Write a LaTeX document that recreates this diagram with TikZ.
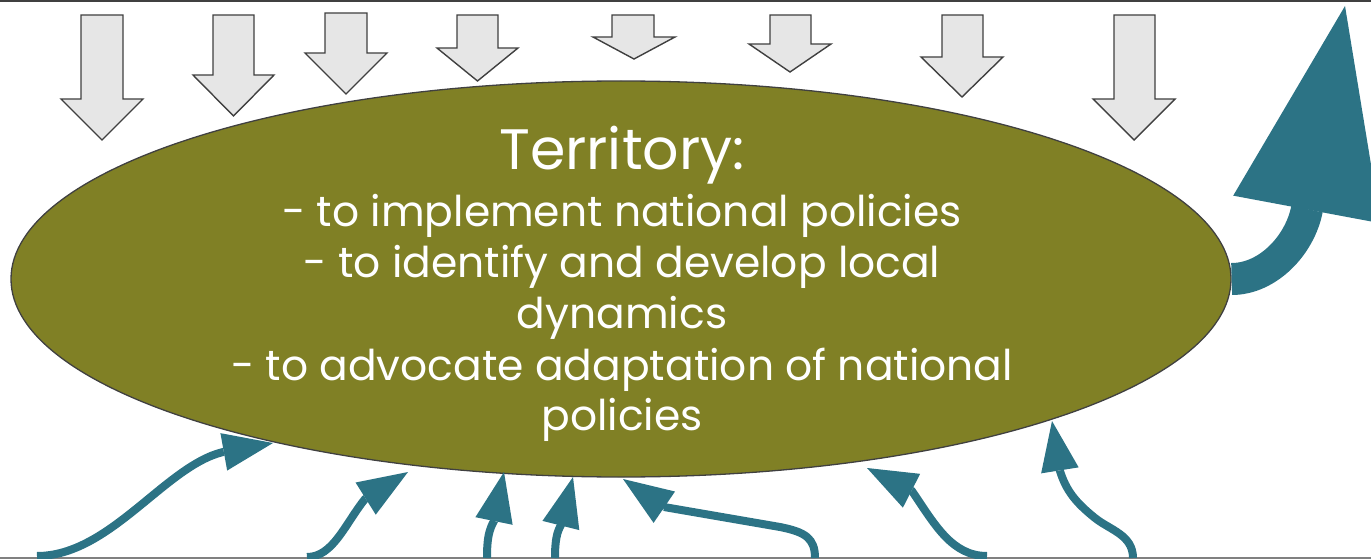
\documentclass[tikz,border=0pt]{standalone}
\usepackage{fontspec}
\setmainfont{Poppins}
\usetikzlibrary{shapes.geometric,arrows.meta}
\definecolor{olivec}{HTML}{808025}
\definecolor{tealc}{HTML}{2C7385}
\definecolor{edgec}{HTML}{404040}
\definecolor{blkfill}{HTML}{E6E6E6}
\newcommand\blkarrow[7]{\draw[blk] (#1,#3) -- (#2,#3) -- (#2,#4) -- (#6,#4) -- ({(#5+#6)/2},#7) -- (#5,#4) -- (#1,#4) -- cycle;}
\tikzset{
  blk/.style={draw=edgec, fill=blkfill, line width=1.4pt, line join=miter},
  flow/.style={draw=tealc, line width=8pt, -{Triangle[length=50pt,width=38pt,line width=0pt]}},
  bighead/.style={draw=tealc, line width=1pt, -{Triangle[length=207pt,width=150pt,line width=0pt]}},
  lbl/.style={text=white, anchor=base, inner sep=0pt, font=\fontsize{42.4}{50}\selectfont},
  ttl/.style={text=white, anchor=base, inner sep=0pt, font=\fontsize{57}{62}\selectfont}
}
\begin{document}
\begin{tikzpicture}[x=1pt,y=-1pt]
\useasboundingbox (0,0) rectangle (1371,559);
\clip (0,0) rectangle (1371,559);
% frame lines
\draw[edgec, line width=2.5pt] (0,1) -- (1371,1);
\draw[gray, line width=2pt] (0,558) -- (1371,558);
% top block arrows
\blkarrow{81}{123}{15}{99}{61}{143}{140}
\blkarrow{213}{254}{15}{75}{193}{274}{116}
\blkarrow{325}{367}{13}{53}{305}{387}{94}
\blkarrow{457}{498}{15}{48}{437}{518}{81}
\blkarrow{612}{654}{15}{37}{593}{675}{59}
\blkarrow{770}{811}{15}{44}{749}{831}{72}
\blkarrow{942}{983}{15}{57}{921}{1003}{97}
\blkarrow{1114}{1155}{15}{99}{1093}{1175}{140}
% ellipse
\node[ellipse, draw=edgec, fill=olivec, line width=1.3pt, inner sep=0pt,
      minimum width=1220pt, minimum height=396pt] (terr) at (621,279) {};
% text
\node[ttl] (t0) at (622,170) {Territory:};
\node[lbl] (t1) at (622,226) {- to implement national policies};
\node[lbl] (t2) at (622,277) {- to identify and develop local};
\node[lbl] (t3) at (622,328) {dynamics};
\node[lbl] (t4) at (622,380) {- to advocate adaptation of national};
\node[lbl] (t5) at (622,430) {policies};
% big arrow
\coordinate (bb) at (1307,209);
\coordinate (bt) at (1345,6);
\draw[tealc, line width=32pt] (terr.east) .. controls (1268,279) and (1300,245) .. (bb);
\draw[bighead] (bb) -- (bt);
% bottom arrows
\coordinate (s1) at (37,556);  \coordinate (b1) at (223,452); \coordinate (e1) at (273,443);
\coordinate (s2) at (307,557); \coordinate (b2) at (365,499); \coordinate (e2) at (408,472);
\coordinate (s3) at (487,558); \coordinate (b3) at (494,521); \coordinate (e3) at (504,472);
\coordinate (s4) at (555,558); \coordinate (b4) at (561,525); \coordinate (e4) at (573,477);
\coordinate (s5) at (815,558); \coordinate (b5) at (664,507); \coordinate (e5) at (623,479);
\coordinate (s6) at (987,556); \coordinate (b6) at (912,491); \coordinate (e6) at (867,468);
\coordinate (s7) at (1133,558); \coordinate (b7) at (1060,471); \coordinate (e7) at (1052,421);
\draw[flow] (s1) .. controls (110,556) and (165,466) .. (b1) -- (e1);
\draw[flow] (s2) .. controls (333,557) and (345,524) .. (b2) -- (e2);
\draw[flow] (s3) .. controls (487,538) and (489,530) .. (b3) -- (e3);
\draw[flow] (s4) .. controls (555,540) and (557,532) .. (b4) -- (e4);
\draw[flow] (s5) .. controls (815,538) and (805,532) .. (780,527) -- (b5) -- (e5);
\draw[flow] (s6) .. controls (952,556) and (935,525) .. (b6) -- (e6);
\draw[flow] (s7) .. controls (1133,535) and (1110,530) .. (1095,518) .. controls (1075,502) and (1066,490) .. (b7) -- (e7);
\end{tikzpicture}
\end{document}
